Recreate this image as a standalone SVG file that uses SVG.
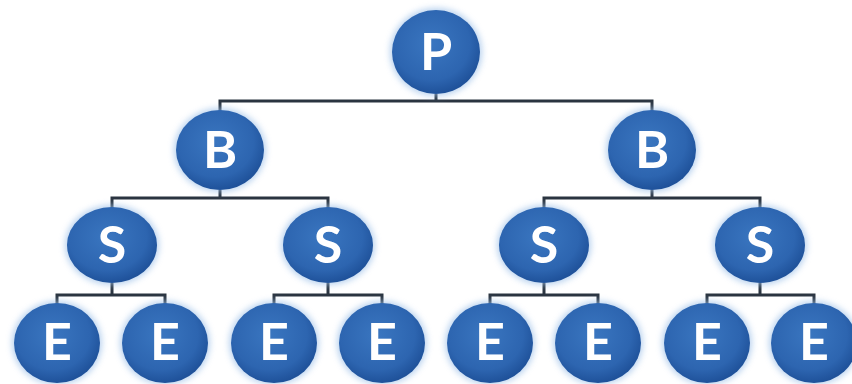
<svg xmlns="http://www.w3.org/2000/svg" width="852" height="384" viewBox="0 0 852 384">
<defs>
<radialGradient id="ball" cx="0.45" cy="0.4" r="0.62">
<stop offset="0" stop-color="#3a76c0"/>
<stop offset="0.7" stop-color="#2d65b0"/>
<stop offset="1" stop-color="#1d4f97"/>
</radialGradient>
<filter id="glow" x="-30%" y="-30%" width="160%" height="160%">
<feGaussianBlur stdDeviation="3"/>
</filter>
<style>
.halo{fill:#9cc0e8;opacity:0.7;filter:url(#glow)}
.ball{fill:url(#ball)}
.lbl{fill:#ffffff;font-family:Lato,"Noto Sans","Liberation Sans",sans-serif;font-weight:bold;font-size:52px;text-anchor:middle}
.conn{fill:none;stroke:#2a3440;stroke-width:3}
</style>
</defs>
<rect width="852" height="384" fill="#ffffff"/>
<g id="connectors">
<path class="conn" d="M436 94V101M220 112V101H652V112"/>
<path class="conn" d="M220 190V198M112 208V198H328V208M652 190V198M544 208V198H760V208"/>
<path class="conn" d="M112 283V295M57 304V295H165V304M328 283V295M274 304V295H382V304M544 283V295M490 304V295H598V304M760 283V295M707 304V295H814V304"/>
</g>
<g id="P"><ellipse class="halo" cx="436" cy="52" rx="46" ry="44"/><ellipse class="ball" cx="436" cy="52" rx="44" ry="42"/><text class="lbl" x="436" y="70">P</text></g>
<g id="B1"><ellipse class="halo" cx="220" cy="150" rx="46" ry="42"/><ellipse class="ball" cx="220" cy="150" rx="44" ry="40"/><text class="lbl" x="220" y="168">B</text></g>
<g id="B2"><ellipse class="halo" cx="652" cy="150" rx="46" ry="42"/><ellipse class="ball" cx="652" cy="150" rx="44" ry="40"/><text class="lbl" x="652" y="168">B</text></g>
<g id="S1"><ellipse class="halo" cx="112" cy="245" rx="47" ry="40"/><ellipse class="ball" cx="112" cy="245" rx="45" ry="38"/><text class="lbl" x="112" y="263">S</text></g>
<g id="S2"><ellipse class="halo" cx="328" cy="245" rx="47" ry="40"/><ellipse class="ball" cx="328" cy="245" rx="45" ry="38"/><text class="lbl" x="328" y="263">S</text></g>
<g id="S3"><ellipse class="halo" cx="544" cy="245" rx="47" ry="40"/><ellipse class="ball" cx="544" cy="245" rx="45" ry="38"/><text class="lbl" x="544" y="263">S</text></g>
<g id="S4"><ellipse class="halo" cx="760" cy="245" rx="47" ry="40"/><ellipse class="ball" cx="760" cy="245" rx="45" ry="38"/><text class="lbl" x="760" y="263">S</text></g>
<g id="E1"><ellipse class="halo" cx="57" cy="343" rx="45" ry="42"/><ellipse class="ball" cx="57" cy="343" rx="43" ry="40"/><text class="lbl" x="57" y="360">E</text></g>
<g id="E2"><ellipse class="halo" cx="165" cy="343" rx="45" ry="42"/><ellipse class="ball" cx="165" cy="343" rx="43" ry="40"/><text class="lbl" x="165" y="360">E</text></g>
<g id="E3"><ellipse class="halo" cx="274" cy="343" rx="45" ry="42"/><ellipse class="ball" cx="274" cy="343" rx="43" ry="40"/><text class="lbl" x="274" y="360">E</text></g>
<g id="E4"><ellipse class="halo" cx="382" cy="343" rx="45" ry="42"/><ellipse class="ball" cx="382" cy="343" rx="43" ry="40"/><text class="lbl" x="382" y="360">E</text></g>
<g id="E5"><ellipse class="halo" cx="490" cy="343" rx="45" ry="42"/><ellipse class="ball" cx="490" cy="343" rx="43" ry="40"/><text class="lbl" x="490" y="360">E</text></g>
<g id="E6"><ellipse class="halo" cx="598" cy="343" rx="45" ry="42"/><ellipse class="ball" cx="598" cy="343" rx="43" ry="40"/><text class="lbl" x="598" y="360">E</text></g>
<g id="E7"><ellipse class="halo" cx="707" cy="343" rx="45" ry="42"/><ellipse class="ball" cx="707" cy="343" rx="43" ry="40"/><text class="lbl" x="707" y="360">E</text></g>
<g id="E8"><ellipse class="halo" cx="814" cy="343" rx="45" ry="42"/><ellipse class="ball" cx="814" cy="343" rx="43" ry="40"/><text class="lbl" x="814" y="360">E</text></g>
</svg>
